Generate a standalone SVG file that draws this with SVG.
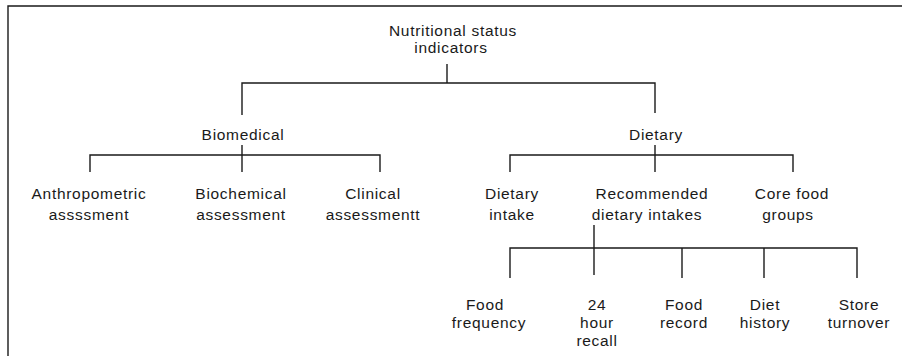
<svg xmlns="http://www.w3.org/2000/svg" width="902" height="356" viewBox="0 0 902 356">
<style>
text{font-family:"Liberation Sans",Arial,sans-serif;font-size:15.5px;letter-spacing:0.7px;fill:#1a1a1a;text-anchor:middle}
.c line,.c polyline,.frame{stroke:#1a1a1a;stroke-width:1.4;fill:none}
</style>
<rect width="902" height="356" fill="#fff"/>
<polyline class="frame" points="8,356 8,6 902,6"/>
<g id="root"><text x="453" y="36">Nutritional status</text><text x="451" y="53">indicators</text></g>
<g id="biomedical"><text x="243" y="140">Biomedical</text></g>
<g id="dietary"><text x="656" y="140">Dietary</text></g>
<g id="anthropometric"><text x="89" y="199">Anthropometric</text><text x="89" y="220">assssment</text></g>
<g id="biochemical"><text x="241" y="199">Biochemical</text><text x="241" y="220">assessment</text></g>
<g id="clinical"><text x="373" y="199">Clinical</text><text x="373" y="220">assessmentt</text></g>
<g id="dietary-intake"><text x="512" y="199">Dietary</text><text x="512" y="220">intake</text></g>
<g id="rdi"><text x="652" y="199">Recommended</text><text x="647" y="220">dietary intakes</text></g>
<g id="core"><text x="792" y="199">Core food</text><text x="788" y="220">groups</text></g>
<g id="food-frequency"><text x="485" y="310">Food</text><text x="489" y="328">frequency</text></g>
<g id="recall"><text x="597" y="310">24</text><text x="597" y="328">hour</text><text x="597" y="346">recall</text></g>
<g id="food-record"><text x="684" y="310">Food</text><text x="684" y="328">record</text></g>
<g id="diet-history"><text x="765" y="310">Diet</text><text x="765" y="328">history</text></g>
<g id="store-turnover"><text x="859" y="310">Store</text><text x="859" y="328">turnover</text></g>
<g id="connectors" class="c">
<line x1="447" y1="64" x2="447" y2="83"/>
<polyline points="242,115 242,83 655,83 655,113"/>
<line x1="242" y1="145" x2="242" y2="172"/>
<polyline points="90,172 90,155 380,155 380,172"/>
<line x1="655" y1="145" x2="655" y2="172"/>
<polyline points="510,172 510,155 793,155 793,172"/>
<line x1="594" y1="225" x2="594" y2="275"/>
<polyline points="510,278 510,248 857,248 857,278"/>
<line x1="682" y1="248" x2="682" y2="278"/>
<line x1="764" y1="248" x2="764" y2="278"/>
</g>
</svg>
